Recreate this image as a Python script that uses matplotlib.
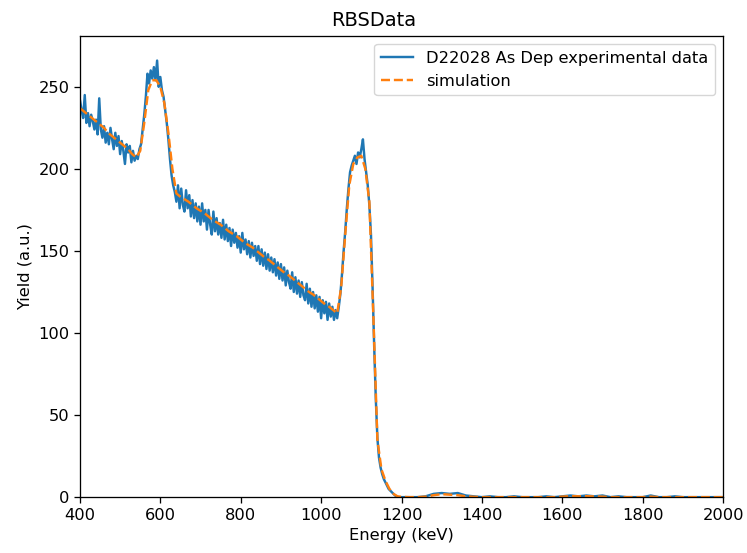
import numpy as np
import matplotlib
matplotlib.use("Agg")
import matplotlib.pyplot as plt

# ---------------------------------------------------------------------------
# data (energy in keV, yield in a.u.)
# ---------------------------------------------------------------------------
exp_energy = np.arange(400, 1201, 4)
exp_yield = [
    242, 236, 231, 245, 228, 234, 226, 233, 229, 224,
    230, 221, 243, 224, 219, 226, 216, 222, 215, 225,
    218, 212, 222, 214, 220, 209, 217, 211, 203, 215,
    210, 214, 204, 211, 205, 208, 206, 212, 215, 224,
    233, 244, 258, 252, 260, 255, 262, 254, 266, 250,
    256, 248, 244, 236, 228, 218, 206, 196, 190, 186,
    180, 190, 176, 188, 178, 174, 187, 176, 184, 171,
    181, 170, 179, 168, 177, 166, 179, 168, 175, 163,
    175, 166, 160, 174, 162, 170, 160, 167, 158, 169,
    157, 166, 156, 164, 153, 163, 155, 161, 152, 159,
    149, 161, 151, 157, 148, 156, 146, 155, 147, 153,
    144, 153, 142, 151, 141, 149, 139, 148, 138, 146,
    137, 145, 135, 143, 133, 142, 132, 140, 129, 138,
    131, 127, 137, 125, 134, 124, 132, 122, 131, 123,
    120, 130, 118, 127, 116, 125, 115, 123, 113, 122,
    109, 120, 112, 119, 108, 118, 110, 116, 108, 114,
    109, 116, 124, 136, 150, 162, 176, 188, 198, 202,
    205, 208, 203, 210, 207, 212, 218, 206, 198, 190,
    178, 160, 128, 92, 60, 36, 24, 18, 14, 11,
    9, 7, 5, 4, 3, 2, 1, 0.5, 0, 0,
    0,
]
exp_tail_energy = np.arange(1220, 2001, 20)
exp_tail_yield = [
    0, 0, 0.5, 2, 2.5, 2, 2.5, 1, 0.5, 0,
    0.5, 0, 0, 0.5, 0, 0, 0, 0.5, 0, 0.5,
    1, 0.5, 1, 0.5, 1, 0, 0.5, 0, 0, 0,
    1, 0, 0, 0.5, 0, 0, 0, 0, 0, 0,
]

sim_energy = np.arange(400, 1201, 10)
sim_yield = [
    237, 235, 233, 231, 229, 227, 225, 222, 220, 218,
    216, 214, 212, 209, 207, 211, 228, 248, 254, 254,
    250, 240, 222, 200, 185, 183, 181.5, 180, 178, 176,
    174.5, 173, 171, 169, 167.5, 166, 164, 162, 160.5, 159,
    157, 155, 153.5, 152, 150, 148, 146, 144.5, 142.5, 140.5,
    138.5, 136.5, 135, 133, 131, 129, 127, 125, 123.5, 121.5,
    119.5, 117.5, 116, 114, 112, 128, 160, 190, 203, 207,
    208, 200, 180, 110, 35, 17, 10, 5, 2, 0.5,
    0.2,
]
sim_tail_energy = np.arange(1220, 2001, 20)
sim_tail_yield = [
    0, 0, 0.3, 1.2, 1.8, 1.5, 1.2, 0.5, 0.2, 0,
    0, 0, 0, 0, 0, 0, 0, 0, 0, 0.3,
    0.6, 0.5, 0.6, 0.4, 0.3, 0, 0, 0, 0, 0,
    0.3, 0, 0, 0, 0, 0, 0, 0, 0, 0,
]

s = 1.167  # reference is a 640x480 figure shown at 747x553
plt.rcParams.update({
    "font.size": 10 * s,
    "lines.linewidth": 1.5 * s,
    "axes.linewidth": 0.8 * s,
    "xtick.major.width": 0.8 * s,
    "ytick.major.width": 0.8 * s,
    "xtick.major.size": 3.5 * s,
    "ytick.major.size": 3.5 * s,
})

fig, ax = plt.subplots(figsize=(7.47, 5.53), dpi=100)
ax.plot(np.concatenate([exp_energy, exp_tail_energy]),
        np.concatenate([exp_yield, exp_tail_yield]),
        "-", color="C0", label="D22028 As Dep experimental data")
ax.plot(np.concatenate([sim_energy, sim_tail_energy]),
        np.concatenate([sim_yield, sim_tail_yield]),
        "--", color="C1", label="simulation")
ax.set_xlim(400, 2000)
ax.set_ylim(0, 281)
ax.set_xlabel("Energy (keV)")
ax.set_ylabel("Yield (a.u.)")
fig.suptitle("RBSData", fontsize=12 * s)
ax.legend(loc="upper right")

fig.subplots_adjust(left=0.107, right=0.968, top=0.935, bottom=0.101)
fig.savefig("out.png", dpi=100)
